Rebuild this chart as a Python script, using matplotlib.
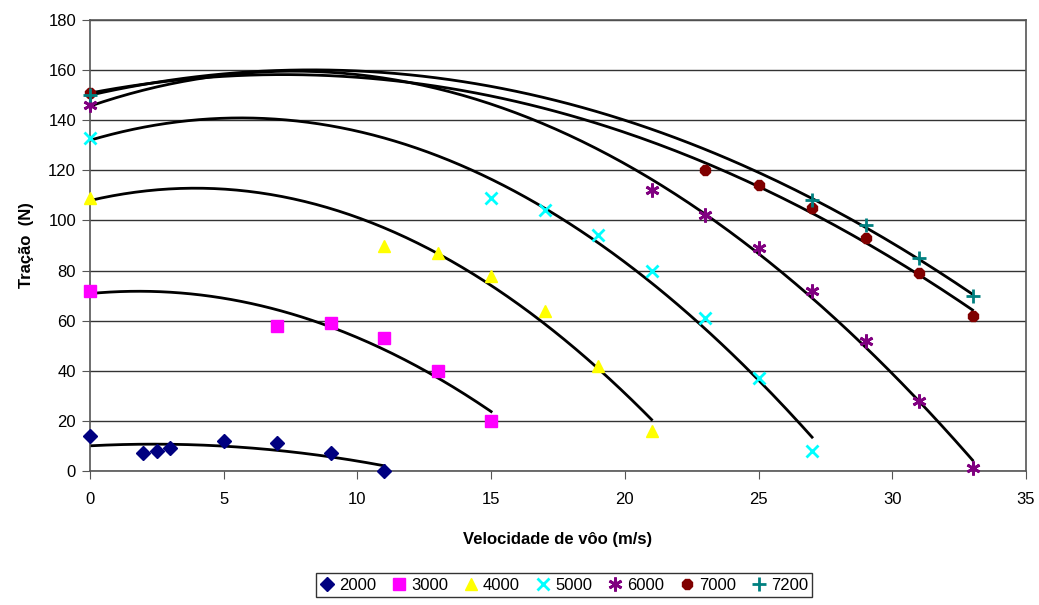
import numpy as np
import matplotlib.pyplot as plt

plt.rcParams['font.family'] = ['Liberation Sans', 'DejaVu Sans']

# dados: velocidade (m/s) e tração (N) por rotação
v2000 = [0, 2, 2.5, 3, 5, 7, 9, 11]
t2000 = [14, 7, 8, 9, 12, 11, 7, 0]
v3000 = [0, 7, 9, 11, 13, 15]
t3000 = [72, 58, 59, 53, 40, 20]
v4000 = [0, 11, 13, 15, 17, 19, 21]
t4000 = [109, 90, 87, 78, 64, 42, 16]
v5000 = [0, 15, 17, 19, 21, 23, 25, 27]
t5000 = [133, 109, 104, 94, 80, 61, 37, 8]
v6000 = [0, 21, 23, 25, 27, 29, 31, 33]
t6000 = [146, 112, 102, 89, 72, 52, 28, 1]
v7000 = [0, 23, 25, 27, 29, 31, 33]
t7000 = [151, 120, 114, 105, 93, 79, 62]
v7200 = [0, 27, 29, 31, 33]
t7200 = [150, 108, 98, 85, 70]

series = [
    ("2000", v2000, t2000, dict(marker="D", color="#000080", ms=7)),
    ("3000", v3000, t3000, dict(marker="s", color="#FF00FF", ms=8)),
    ("4000", v4000, t4000, dict(marker="^", color="#FFFF00", ms=9)),
    ("5000", v5000, t5000, dict(marker="x", color="#00FFFF", ms=9, mew=2)),
    ("6000", v6000, t6000, dict(marker=(6, 2, 0), color="#800080", ms=10, mew=2)),
    ("7000", v7000, t7000, dict(marker="8", color="#800000", ms=8)),
    ("7200", v7200, t7200, dict(marker="+", color="#008080", ms=10, mew=2)),
]

fig = plt.figure(figsize=(10.39, 6.05), dpi=100)
ax = fig.add_axes([90 / 1039, 1 - 471 / 605, 936 / 1039, 451 / 605])

for name, v, t, st in series:
    # linha de tendência polinomial (ordem 2), como no Excel
    c = np.polyfit(v, t, 2)
    xs = np.linspace(0, max(v), 200)
    ax.plot(xs, np.polyval(c, xs), color="black", lw=2.0, zorder=2)
for name, v, t, st in series:
    ax.plot(v, t, ls="none", label=name, zorder=3, clip_on=False, **st)

ax.set_xlim(0, 35)
ax.set_ylim(0, 180)
ax.set_xticks(range(0, 36, 5))
ax.set_yticks(range(0, 181, 20))
ax.grid(axis="y", color="#333333", lw=1.0)
ax.set_axisbelow(True)
for s in ax.spines.values():
    s.set_color("#555555")
    s.set_linewidth(1.2)
ax.tick_params(direction="out", length=6, color="#555555", labelsize=12, pad=4)
ax.tick_params(axis="x", pad=9)

ax.set_xlabel("Velocidade de vôo (m/s)", fontsize=12, fontweight="bold", labelpad=18)
ax.set_ylabel("Tração  (N)", fontsize=12, fontweight="bold", labelpad=10)

leg = fig.legend(loc="lower center", bbox_to_anchor=(564 / 1039, 0.0), ncol=7,
                 fontsize=12, frameon=True, fancybox=False, edgecolor="black",
                 handlelength=0.9, handletextpad=0.25, columnspacing=0.95,
                 borderpad=0.25, numpoints=1)
leg.get_frame().set_linewidth(1.0)

fig.savefig("out.png", dpi=100)
